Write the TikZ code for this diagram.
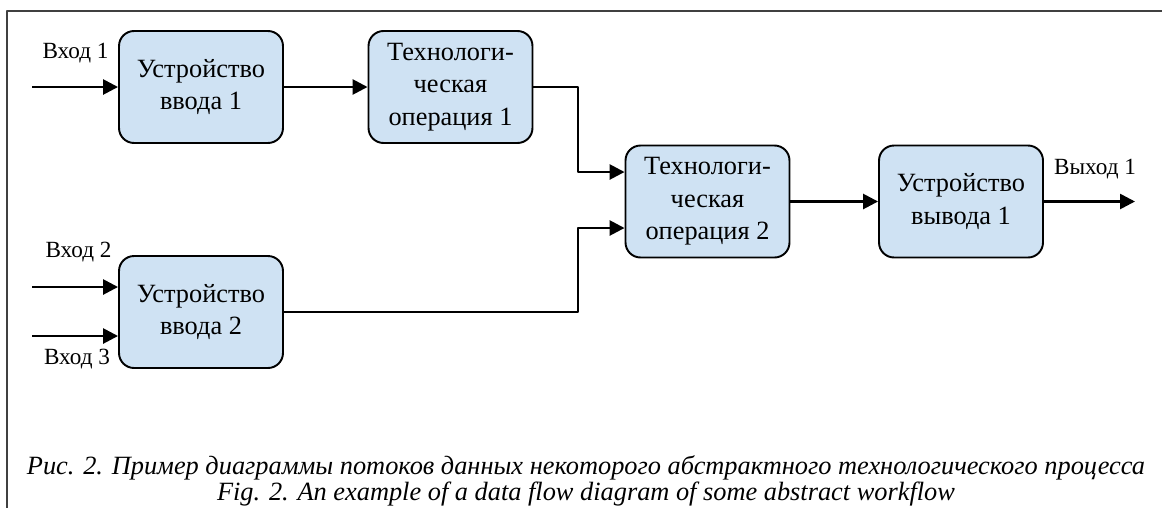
\documentclass[tikz,border=0pt]{standalone}
\usepackage{fontspec}
\setmainfont{Liberation Serif}
\usetikzlibrary{arrows.meta}
\definecolor{blokfill}{RGB}{207,226,243}
\definecolor{ramka}{RGB}{64,64,64}
\begin{document}
\begin{tikzpicture}[x=0.02cm,y=-0.02cm,>={Triangle[length=0.3cm,width=0.3cm]},line join=round,
	blok/.style={draw,line width=1.1pt,rounded corners=0.3cm,fill=blokfill,minimum width=3.28cm,minimum height=2.24cm,inner sep=0pt,align=center,font=\fontsize{15}{18.5}\selectfont},
	potok/.style={->,line width=1.5pt},
	metka/.style={font=\fontsize{13.2}{15}\selectfont},
	podpis/.style={align=center,inner sep=0pt,font=\fontsize{15}{13.1}\selectfont\itshape}]
	\useasboundingbox (0,0) rectangle (1162,508);
	\draw[line width=1.2pt,ramka] (1162,11)--(7,11)--(7,508);
	% Блоки
	\node[blok] (ui1) at (201,87) {Устройство\\ввода 1};
	\node[blok] (to1) at (450.5,87) {Технологи-\\ческая\\операция 1};
	\node[blok] (ui2) at (201,312) {Устройство\\ввода 2};
	\node[blok] (to2) at (707.5,201.5) {Технологи-\\ческая\\операция 2};
	\node[blok] (uv1) at (961,201.5) {Устройство\\вывода 1};
	% Входы и выход
	\coordinate (vh1) at (32,87);
	\coordinate (vh2) at (32,287);
	\coordinate (vh3) at (32,336);
	\coordinate (vyh) at (1135,201.5);
	\coordinate (k1) at (578,172);
	\coordinate (k2) at (578,228);
	\node[metka] (lvh1) at (75.5,53) {Вход 1};
	\node[metka] (lvh2) at (78.5,252) {Вход 2};
	\node[metka] (lvh3) at (77,359) {Вход 3};
	\node[metka] (lvyh) at (1095,169) {Выход 1};
	% Потоки
	\draw[potok] (vh1)--(ui1);
	\draw[potok] (vh2)--(vh2 -| ui2.west);
	\draw[potok] (vh3)--(vh3 -| ui2.west);
	\draw[potok] (ui1)--(to1);
	\draw[potok] (to1.east) -| (k1)--(k1 -| to2.west);
	\draw[potok] (ui2.east) -| (k2)--(k2 -| to2.west);
	\draw[potok] (to2)--(uv1);
	\draw[potok] (uv1.east)--(vyh);
	% Подпись
	\node[podpis,anchor=base] (ris) at (586,500) {Рис. 2. Пример диаграммы потоков данных некоторого абстрактного технологического процесса\\Fig. 2. An example of a data flow diagram of some abstract workflow};
\end{tikzpicture}
\end{document}
